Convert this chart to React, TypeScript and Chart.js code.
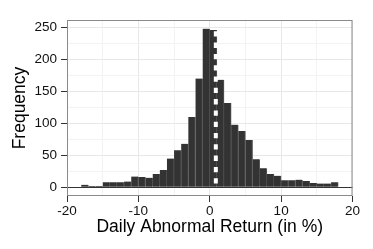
import React, { useEffect, useRef } from 'react';
import { Chart, registerables } from 'chart.js';

Chart.register(...registerables);

// Histogram bins (left edge, width 1 %)
const binStarts = [
  -20, -19, -18, -17, -16, -15, -14, -13, -12, -11,
  -10, -9, -8, -7, -6, -5, -4, -3, -2, -1,
  0, 1, 2, 3, 4, 5, 6, 7, 8, 9,
  10, 11, 12, 13, 14, 15, 16, 17, 18, 19,
];
const frequencies = [
  0, 0, 4, 2, 2, 8, 8, 8, 9, 17,
  16, 15, 21, 27, 45, 58, 68, 110, 170, 248,
  246, 168, 132, 98, 88, 74, 44, 30, 21, 18,
  11, 11, 12, 10, 7, 6, 6, 8, 0, 0,
];
const binWidth = 1;
const meanReturn = 0.85;

const xTickValues = [-20, -15, -10, -5, 0, 5, 10, 15, 20];
const xMajorTicks = [-20, -10, 0, 10, 20];
const yTickValues = [0, 25, 50, 75, 100, 125, 150, 175, 200, 225, 250];
const yMajorTicks = [0, 50, 100, 150, 200, 250];
const xRange = [-20, 20];
const yRange = [-13.5, 261.5];

const xTitle = 'Daily Abnormal Return (in %)';
const yTitle = 'Frequency';

const FONT = "'Liberation Sans', Arial, Helvetica, sans-serif";

const panelPlugin = {
  id: 'panelDecor',
  afterDatasetsDraw(chart: any) {
    const { ctx, chartArea: a, scales } = chart;
    const x = scales.x;
    const y = scales.y;
    ctx.save();
    // zero baseline
    const y0 = Math.round(y.getPixelForValue(0)) + 0.5;
    ctx.strokeStyle = '#333333';
    ctx.lineWidth = 1;
    ctx.beginPath();
    ctx.moveTo(a.left, y0);
    ctx.lineTo(a.right, y0);
    ctx.stroke();
    // dashed mean line
    const xm = x.getPixelForValue(meanReturn);
    ctx.strokeStyle = '#ffffff';
    ctx.lineWidth = 4;
    ctx.setLineDash([5.3, 6]);
    ctx.beginPath();
    ctx.moveTo(xm, a.top);
    ctx.lineTo(xm, a.bottom);
    ctx.stroke();
    ctx.setLineDash([]);
    // panel border
    ctx.strokeStyle = '#8a8a8a';
    ctx.lineWidth = 1;
    ctx.strokeRect(a.left + 0.5, a.top + 0.5, a.right - a.left - 1, a.bottom - a.top - 1);
    ctx.restore();
  },
};

export default function App() {
  const ref = useRef<HTMLCanvasElement | null>(null);

  useEffect(() => {
    if (!ref.current) return;
    const data = binStarts.map((s, i) => ({ x: s + binWidth / 2, y: frequencies[i] }));
    const chart = new Chart(ref.current, {
      type: 'bar',
      data: {
        datasets: [
          {
            data,
            backgroundColor: '#333333',
            borderColor: '#555555',
            borderWidth: { left: 0, right: 1, top: 0, bottom: 0 } as any,
            borderSkipped: 'start',
            barPercentage: 1,
            categoryPercentage: 1,
          } as any,
        ],
      },
      options: {
        responsive: false,
        animation: false,
        devicePixelRatio: 1,
        layout: { padding: { left: 0, top: 20, right: 20.5, bottom: 0 } },
        plugins: { legend: { display: false }, tooltip: { enabled: false } },
        scales: {
          x: {
            type: 'linear',
            min: xRange[0],
            max: xRange[1],
            offset: false,
            afterBuildTicks: (axis: any) => {
              axis.ticks = xTickValues.map((v) => ({ value: v }));
            },
            afterFit: (axis: any) => {
              axis.height = 53;
            },
            border: { display: false },
            grid: {
              offset: false,
              drawTicks: true,
              tickLength: 6,
              color: (c: any) => (xMajorTicks.includes(c.tick?.value) ? '#e8e8e8' : '#f3f3f3'),
              tickColor: (c: any) => (xMajorTicks.includes(c.tick?.value) ? '#333333' : 'rgba(0,0,0,0)'),
              tickWidth: 1,
            },
            ticks: {
              autoSkip: false,
              maxRotation: 0,
              padding: 1,
              color: '#111111',
              font: { family: FONT, size: 13.5 },
              callback: (v: any) => (xMajorTicks.includes(Number(v)) ? String(v) : ''),
            },
            title: {
              display: true,
              text: xTitle,
              color: '#000000',
              font: { family: FONT, size: 17.5 },
              padding: { top: 0, bottom: 11.5 },
            },
          },
          y: {
            type: 'linear',
            min: yRange[0],
            max: yRange[1],
            afterBuildTicks: (axis: any) => {
              axis.ticks = yTickValues.map((v) => ({ value: v }));
            },
            afterFit: (axis: any) => {
              axis.width = 67;
            },
            border: { display: false },
            grid: {
              drawTicks: true,
              tickLength: 6,
              color: (c: any) => (yMajorTicks.includes(c.tick?.value) ? '#e8e8e8' : '#f3f3f3'),
              tickColor: (c: any) => (yMajorTicks.includes(c.tick?.value) ? '#333333' : 'rgba(0,0,0,0)'),
              tickWidth: 1,
            },
            ticks: {
              autoSkip: false,
              padding: 4,
              color: '#111111',
              font: { family: FONT, size: 13.5 },
              callback: (v: any) => (yMajorTicks.includes(Number(v)) ? String(v) : ''),
            },
            title: {
              display: true,
              text: yTitle,
              color: '#000000',
              font: { family: FONT, size: 17.5 },
              padding: { top: 9.5, bottom: 0 },
            },
          },
        },
      },
      plugins: [panelPlugin],
    });
    return () => chart.destroy();
  }, []);

  return (
    <div style={{ position: 'absolute', left: 0, top: 0, width: 373, height: 249, background: '#ffffff' }}>
      <canvas ref={ref} width={373} height={249} style={{ display: 'block' }} />
    </div>
  );
}
